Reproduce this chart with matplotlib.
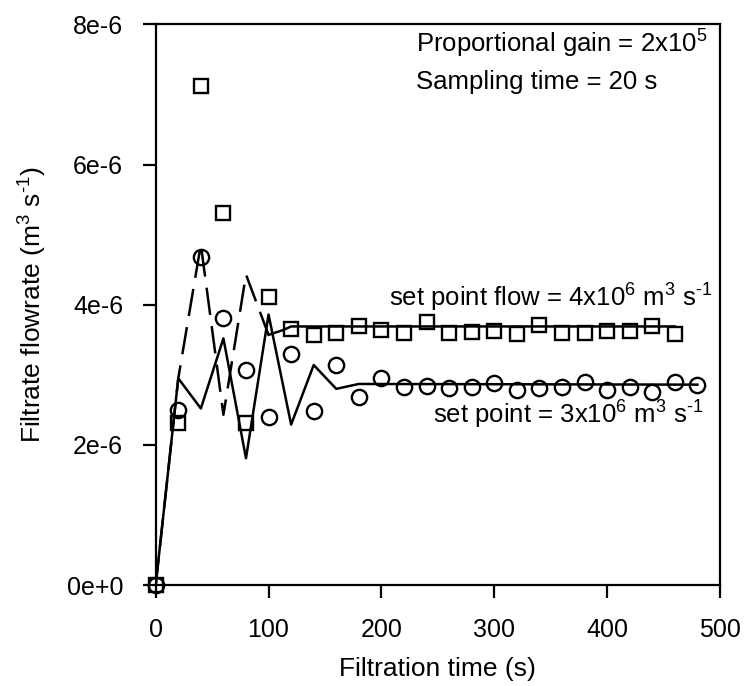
import matplotlib
matplotlib.use('Agg')
import matplotlib.pyplot as plt
import numpy as np

plt.rcParams['font.family'] = ['Liberation Sans', 'DejaVu Sans']
plt.rcParams['mathtext.fontset'] = 'custom'
plt.rcParams['mathtext.rm'] = 'Liberation Sans'
plt.rcParams['mathtext.it'] = 'Liberation Sans:italic'

# measured data, set point 4e-6 (squares) and 3e-6 (circles)
t_sq = [0, 20, 40, 60, 80, 100, 120, 140, 160, 180, 200, 220, 240, 260, 280,
        300, 320, 340, 360, 380, 400, 420, 440, 460]
q_sq = [0, 2.32, 7.12, 5.31, 2.32, 4.11, 3.65, 3.57, 3.60, 3.69, 3.64, 3.59,
        3.75, 3.60, 3.61, 3.63, 3.58, 3.71, 3.60, 3.60, 3.62, 3.62, 3.69, 3.58]

t_ci = [0, 20, 40, 60, 80, 100, 120, 140, 160, 180, 200, 220, 240, 260, 280,
        300, 320, 340, 360, 380, 400, 420, 440, 460, 480]
q_ci = [0, 2.50, 4.68, 3.81, 3.07, 2.40, 3.29, 2.48, 3.14, 2.68, 2.95, 2.82,
        2.84, 2.81, 2.82, 2.88, 2.78, 2.81, 2.83, 2.90, 2.79, 2.82, 2.75, 2.90, 2.86]

# model curves
t_dash = [0, 20, 40, 60, 80, 100]
q_dash = [0, 2.95, 4.86, 2.43, 4.43, 3.57]
t_m4 = [100, 113, 120, 460]
q_m4 = [3.57, 3.64, 3.69, 3.69]

t_m3 = [0, 20, 40, 60, 80, 100, 120, 140, 160, 180, 480]
q_m3 = [0, 2.95, 2.52, 3.52, 1.81, 3.86, 2.29, 3.14, 2.80, 2.87, 2.86]

yticks = [0, 2e-6, 4e-6, 6e-6, 8e-6]
ylabels = ['0e+0', '2e-6', '4e-6', '6e-6', '8e-6']

sc = 1e-6
fig = plt.figure(figsize=(7.45, 6.86), dpi=100)
ax = fig.add_axes([0.209, 0.147, 0.7574, 0.8176])

ax.plot(t_dash, np.array(q_dash) * sc, 'k', lw=1.8, dashes=(11, 4.5))
ax.plot(t_m4, np.array(q_m4) * sc, 'k-', lw=1.8)
ax.plot(t_m3, np.array(q_m3) * sc, 'k-', lw=1.8)
ax.plot(t_sq, np.array(q_sq) * sc, 's', ms=9.5, mfc='none', mec='k', mew=1.7,
        clip_on=False)
ax.plot(t_ci, np.array(q_ci) * sc, 'o', ms=11, mfc='none', mec='k', mew=1.7,
        clip_on=False)

ax.set_xlim(0, 500)
ax.set_ylim(0, 8e-6)
ax.set_xticks([0, 100, 200, 300, 400, 500])
ax.set_yticks(yticks)
ax.set_yticklabels(ylabels)
ax.tick_params(direction='out', length=9.4, width=1.6, labelsize=18, pad=14)
for s in ax.spines.values():
    s.set_linewidth(1.6)

inv = r'$^{\text{-}1}$'
ax.set_xlabel('Filtration time (s)', fontsize=19, labelpad=11)
ax.set_ylabel('Filtrate flowrate (m$^3$ s' + inv + ')', fontsize=19, labelpad=13)

ax.text(230.7, 7.60e-6, 'Proportional gain = 2x10$^5$', fontsize=18.5, va='baseline')
ax.text(230.7, 7.07e-6, 'Sampling time = 20 s', fontsize=18.5, va='baseline')
ax.text(493, 3.97e-6, 'set point flow = 4x10$^6$ m$^3$ s' + inv, fontsize=18.5,
        ha='right', va='baseline')
ax.text(485, 2.30e-6, 'set point = 3x10$^6$ m$^3$ s' + inv, fontsize=18.5,
        ha='right', va='baseline')

fig.savefig('out.png', dpi=100)
